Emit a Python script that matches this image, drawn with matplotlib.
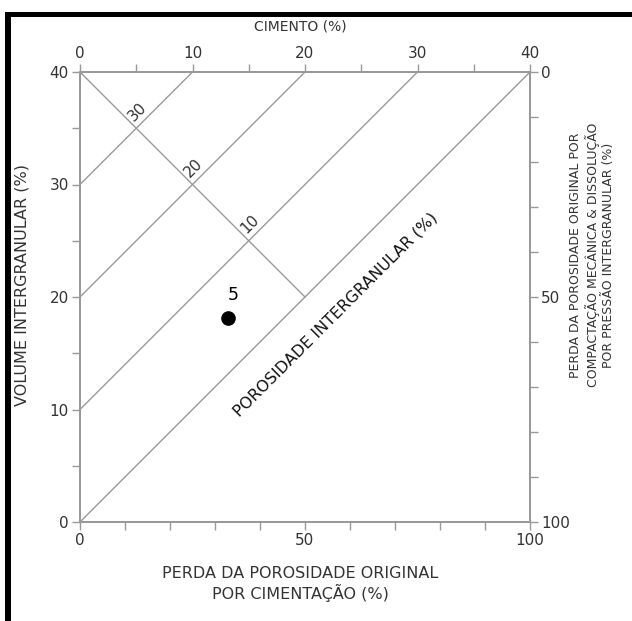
import matplotlib.pyplot as plt
from matplotlib.patches import Rectangle

# cement lines (%), top axis
cement_levels = [10, 20, 30, 40]
# labels written where the descending line crosses the cement lines
cross_cement = [10, 20, 30]
cross_labels = ['30', '20', '10']
# descending boundary line (x = loss by cementation %, y = intergranular volume %)
boundary_x = [0, 50]
boundary_y = [40, 20]
# samples
sample_x = [32.9]
sample_y = [18.1]
sample_labels = ['5']

gray = '#999999'
txt = '#333333'

fig = plt.figure(figsize=(6.32, 6.21), dpi=100)
ax = fig.add_axes([80 / 632, 99 / 621, 450 / 632, 450 / 621])
ax.set_xlim(0, 100)
ax.set_ylim(0, 40)

# cement lines: from (2.5*C, 40) down to (0, 40-C)
for c in cement_levels:
    ax.plot([2.5 * c, 0], [40, 40 - c], color=gray, lw=1)

ax.plot(boundary_x, boundary_y, color=gray, lw=1)

# labels at the crossings of the boundary with the cement lines
for c, lab in zip(cross_cement, cross_labels):
    xi = c * 1.25
    yi = 40 - 0.4 * xi
    ax.annotate(lab, (xi, yi), xytext=(1, 12), textcoords='offset points',
                rotation=45, ha='center', va='center', fontsize=11, color=txt,
                rotation_mode='anchor')

ax.text(56.7, 18.4, 'POROSIDADE INTERGRANULAR (%)', rotation=45, ha='center',
        va='center', rotation_mode='anchor', fontsize=11.5, color='#111111')

ax.plot(sample_x, sample_y, 'o', color='black', markersize=9.5)
for x, y, lab in zip(sample_x, sample_y, sample_labels):
    ax.annotate(lab, (x, y), xytext=(4, 17), textcoords='offset points',
                ha='center', va='center', fontsize=12.5, color='black')

# bottom / left axes
ax.set_xticks(range(0, 101, 10))
ax.set_xticklabels(['0' if t == 0 else '50' if t == 50 else '100' if t == 100 else ''
                    for t in range(0, 101, 10)])
ax.set_yticks(range(0, 41, 5))
ax.set_yticklabels([str(t) if t % 10 == 0 else '' for t in range(0, 41, 5)])
ax.tick_params(direction='out', length=6, width=1, color=gray, labelcolor=txt,
               labelsize=11, pad=2)

ax_top = ax.twiny()
ax_top.set_xlim(0, 40)
ax_top.set_xticks(range(0, 41, 5))
ax_top.set_xticklabels([str(t) if t % 10 == 0 else '' for t in range(0, 41, 5)])
ax_top.tick_params(direction='out', length=6, width=1, color=gray, labelcolor=txt,
                   labelsize=11, pad=2)

ax_r = ax.twinx()
ax_r.set_ylim(100, 0)
ax_r.set_yticks(range(0, 101, 10))
ax_r.set_yticklabels(['0' if t == 0 else '50' if t == 50 else '100' if t == 100 else ''
                      for t in range(0, 101, 10)])
ax_r.tick_params(direction='out', length=6, width=1, color=gray, labelcolor=txt,
                 labelsize=11, pad=2)

for a in (ax, ax_top, ax_r):
    for s in a.spines.values():
        s.set_color(gray)
        s.set_linewidth(1.2)

# axis titles
ax.text(0.489, -0.138, 'PERDA DA POROSIDADE ORIGINAL\nPOR CIMENTAÇÃO (%)',
        transform=ax.transAxes, ha='center', va='center', fontsize=11.5,
        color=txt, linespacing=1.25)
ax.text(-0.129, 0.527, 'VOLUME INTERGRANULAR (%)', transform=ax.transAxes,
        rotation=90, ha='center', va='center', fontsize=11.5, color=txt)
ax.text(0.489, 1.101, 'CIMENTO (%)', transform=ax.transAxes, ha='center',
        va='center', fontsize=10, color=txt)
ax.text(1.138, 0.593, 'PERDA DA POROSIDADE ORIGINAL POR\nCOMPACTAÇÃO MECÂNICA & DISSOLUÇÃO\n'
        'POR PRESSÃO INTERGRANULAR (%)', transform=ax.transAxes, rotation=90,
        ha='center', va='center', fontsize=9, color=txt, linespacing=1.2)

# black frame of the original picture
fig.add_artist(Rectangle((5 / 632, 0), 6 / 632, 609 / 621, transform=fig.transFigure,
                         color='black', lw=0))
fig.add_artist(Rectangle((5 / 632, 604 / 621), 627 / 632, 5 / 621,
                         transform=fig.transFigure, color='black', lw=0))

fig.savefig('out.png', dpi=100)
